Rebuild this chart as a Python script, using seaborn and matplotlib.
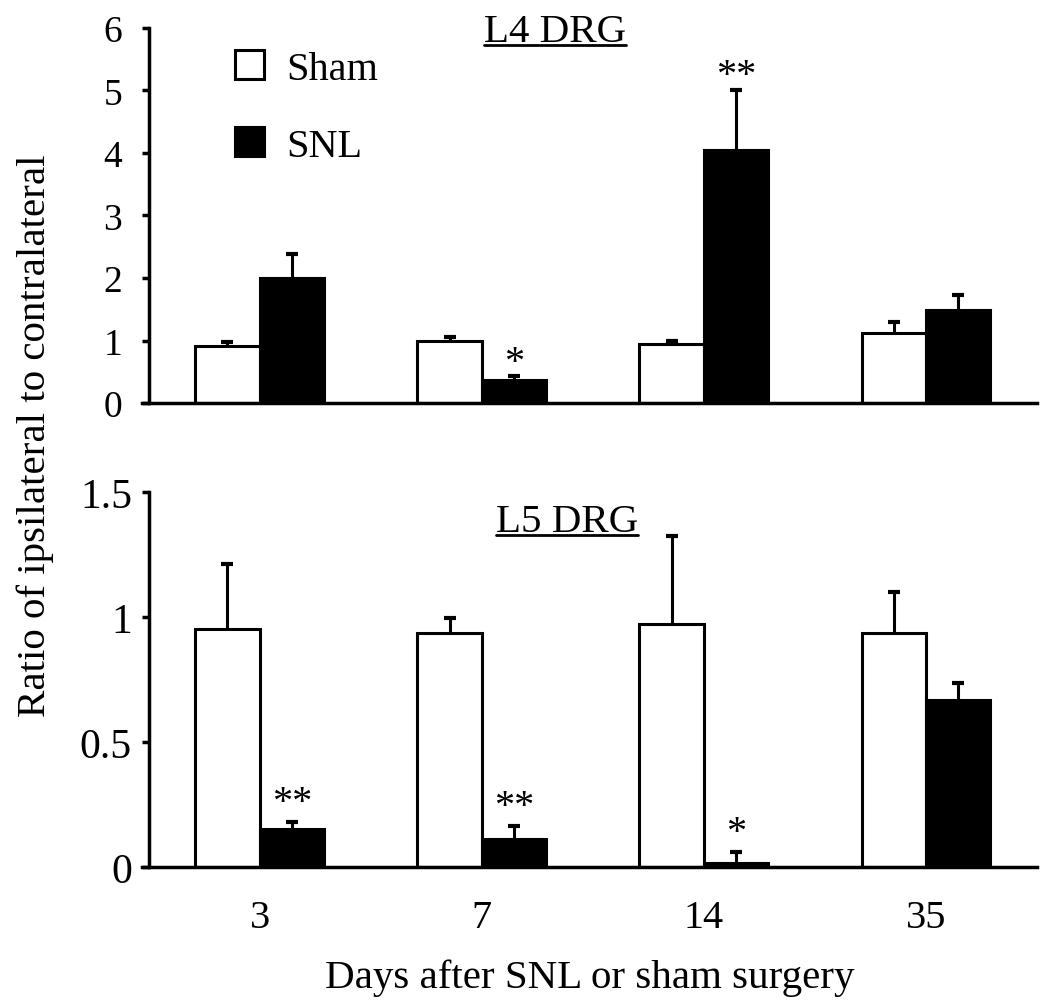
import numpy as np
import pandas as pd
import matplotlib
matplotlib.use("Agg")
import matplotlib.pyplot as plt
from matplotlib.patches import Patch
from matplotlib.lines import Line2D
import seaborn as sns

# ---- data ----
days = ["3", "7", "14", "35"]
groups = ["Sham", "SNL"]

l4_sham = [0.92, 1.00, 0.94, 1.12]
l4_sham_err = [0.05, 0.05, 0.06, 0.18]
l4_snl = [2.00, 0.37, 4.05, 1.49]
l4_snl_err = [0.38, 0.06, 0.96, 0.24]
l4_stars = ["", "*", "**", ""]

l5_sham = [0.952, 0.936, 0.972, 0.936]
l5_sham_err = [0.258, 0.060, 0.351, 0.165]
l5_snl = [0.152, 0.112, 0.016, 0.668]
l5_snl_err = [0.028, 0.052, 0.044, 0.068]
l5_stars = ["**", "**", "*", ""]

sns.set_theme(style="ticks")
plt.rcParams["font.family"] = ["Liberation Serif", "DejaVu Serif"]
plt.rcParams["axes.linewidth"] = 2.5
for k in ["text.color", "axes.labelcolor", "axes.edgecolor", "xtick.color", "ytick.color"]:
    plt.rcParams[k] = "black"

palette = {"Sham": "white", "SNL": "black"}


def make_df(sham, snl):
    df = pd.DataFrame({"Day": days, "Sham": sham, "SNL": snl})
    return df.melt(id_vars="Day", var_name="Group", value_name="Ratio")


def draw_panel(ax, sham, sham_err, snl, snl_err, stars, ymax, yticks, ylabels,
               tick_size, tick_pad, title, title_pos, star_off):
    df = make_df(sham, snl)
    sns.barplot(data=df, x="Day", y="Ratio", hue="Group", order=days,
                hue_order=groups, palette=palette, edgecolor="black",
                linewidth=2.2, width=0.58, errorbar=None, legend=False,
                ax=ax, zorder=2)
    # upper-only error bars on top of each bar
    for cont, errs in zip(ax.containers, [sham_err, snl_err]):
        xs = [b.get_x() + b.get_width() / 2 for b in cont]
        ys = [b.get_height() for b in cont]
        eb = ax.errorbar(xs, ys, yerr=[np.zeros(len(errs)), errs], fmt="none",
                         ecolor="black", elinewidth=2.2, capsize=4.5, capthick=3,
                         zorder=1)
        eb[1][0].set_visible(False)  # no cap at the bar top
    # significance marks over SNL bars
    snl_cont = ax.containers[1]
    for b, e, s in zip(snl_cont, snl_err, stars):
        if s:
            ax.annotate(s, xy=(b.get_x() + b.get_width() / 2, b.get_height() + e),
                        xytext=(0, star_off), textcoords="offset points",
                        ha="center", va="center", fontsize=29)
    ax.set_xlim(-0.53, 3.5)
    ax.set_ylim(0, ymax)
    ax.set_yticks(yticks)
    ax.set_yticklabels(ylabels)
    ax.spines["left"].set_position(("data", -0.5))
    sns.despine(ax=ax)
    ax.tick_params(axis="y", length=5, width=2.5, labelsize=tick_size, pad=tick_pad)
    ax.tick_params(axis="x", length=0)
    ax.set_xlabel("")
    ax.set_ylabel("")
    t = ax.text(title_pos[0], title_pos[1], title, transform=ax.transAxes,
                ha="center", va="baseline", fontsize=29.5)
    return t


fig = plt.figure(figsize=(10.5, 10.03), dpi=100)
ax_top = fig.add_axes([0.1352, 0.5972, 0.8524, 0.3739])
ax_bot = fig.add_axes([0.1352, 0.1346, 0.8524, 0.3739])

t4 = draw_panel(ax_top, l4_sham, l4_sham_err, l4_snl, l4_snl_err, l4_stars,
                6, [0, 1, 2, 3, 4, 5, 6], ["0", "1", "2", "3", "4", "5", "6"],
                27, 14, "L4 DRG", (0.461, 0.965), 10)
ax_top.set_xticklabels([])

t5 = draw_panel(ax_bot, l5_sham, l5_sham_err, l5_snl, l5_snl_err, l5_stars,
                1.5, [0, 0.5, 1, 1.5], ["0", "0.5", "1", "1.5"],
                30, 7, "L5 DRG", (0.475, 0.896), 14)
ax_bot.tick_params(axis="x", labelsize=29, pad=23)
ax_bot.set_xlabel("Days after SNL or sham surgery", fontsize=29.5, labelpad=16)

handles = [Patch(facecolor=palette[g], edgecolor="black", linewidth=2.2) for g in groups]
ax_top.legend(handles, groups, loc="upper left", bbox_to_anchor=(0.104, 0.94),
              frameon=False, fontsize=29, handlelength=0.72, handleheight=0.72,
              handletextpad=0.55, labelspacing=0.98, borderpad=0, borderaxespad=0)

fig.text(0.034, 0.566, "Ratio of ipsilateral to contralateral", rotation=90,
         ha="center", va="center", fontsize=29.5)

# underline the panel titles
renderer = fig.canvas.get_renderer()
for t in (t4, t5):
    bb = t.get_window_extent(renderer).transformed(fig.transFigure.inverted())
    base = t.axes.transAxes.transform((0, t.get_position()[1]))
    yfig = fig.transFigure.inverted().transform((0, base[1] - 4))[1]
    fig.add_artist(Line2D([bb.x0, bb.x1], [yfig, yfig], color="black", lw=2))

fig.savefig("out.png", dpi=100)
